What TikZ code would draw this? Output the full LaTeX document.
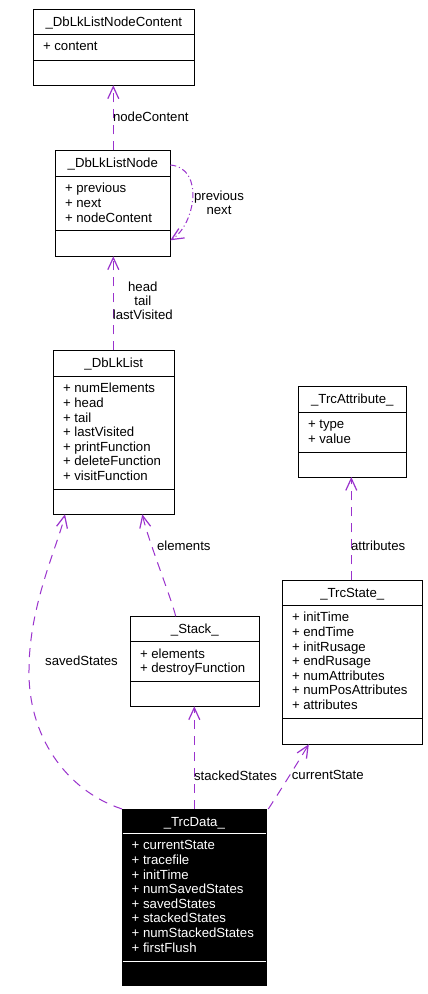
\documentclass[tikz,border=0pt]{standalone}
\usepackage{fontspec}
\setmainfont{Liberation Sans}
\usetikzlibrary{arrows.meta,calc}
\definecolor{usecol}{HTML}{9A32CD}
\newcommand\boxfont{\fontsize{13.2}{14.6}\selectfont}
\newcommand\relfont{\fontsize{13.2}{14}\selectfont}
% #1 style prefix, #2 name, #3 top-left, #4 width, #5 height, #6 sep1, #7 sep2, #8 title, #9 attributes
\newcommand\umlclass[9]{%
  \node[#1 box, minimum width=#4pt, minimum height=#5pt] (#2) at (#3) {};
  \draw[#1 sep] ([yshift=-#6pt]#2.north west) -- ([yshift=-#6pt]#2.north east);
  \draw[#1 sep] ([yshift=-#7pt]#2.north west) -- ([yshift=-#7pt]#2.north east);
  \node[titletext, #1 text] (#2-title) at ([yshift=-17pt]#2.north) {#8};
  \foreach \attr [count=\i] in {#9} {
    \node[attrtext, #1 text] (#2-a\i) at ([xshift=9.5pt, yshift={-(#6+16.5+14.6*(\i-1))*1pt}]#2.north west) {\attr};
  }
}
\tikzset{
  light box/.style={shape=rectangle, draw=black, fill=white, line width=1pt, anchor=north west, inner sep=0pt, outer sep=0pt},
  light sep/.style={draw=black, line width=1pt},
  light text/.style={text=black},
  dark box/.style={shape=rectangle, draw=black, fill=black, line width=1pt, anchor=north west, inner sep=0pt, outer sep=0pt},
  dark sep/.style={draw=white, line width=1pt, shorten <=0.6pt, shorten >=0.6pt},
  dark text/.style={text=white},
  titletext/.style={anchor=base, inner sep=0pt, font=\boxfont},
  attrtext/.style={anchor=base west, inner sep=0pt, font=\boxfont},
  usage/.style={draw=usecol, line width=1pt, dash pattern=on 9pt off 7pt, -{Straight Barb[length=12pt,width=11pt,line width=1.2pt]}},
  selfusage/.style={draw=usecol, line width=1pt, dash pattern=on 6pt off 3pt on 1pt off 3pt, -{Straight Barb[length=12pt,width=11pt,line width=1.2pt]}},
  reltext/.style={inner sep=0pt, align=center, font=\relfont, text=black},
}
\begin{document}
\begin{tikzpicture}[x=1pt, y=-1pt]
\useasboundingbox[fill=white] (0,0) rectangle (428,994);

\umlclass{light}{nc}{33.3,9.3}{161}{76}{25}{51}{\_DbLkListNodeContent}{+ content}
\umlclass{light}{ln}{55.3,150.3}{115}{106}{26}{79.7}{\_DbLkListNode}{+ previous,+ next,+ nodeContent}
\umlclass{light}{dl}{53.3,350.3}{121}{164}{26}{139.4}{\_DbLkList}{+ numElements,+ head,+ tail,+ lastVisited,+ printFunction,+ deleteFunction,+ visitFunction}
\umlclass{light}{ta}{298.3,386.7}{108}{90.3}{25.6}{65.6}{\_TrcAttribute\_}{+ type,+ value}
\umlclass{light}{ts}{282.3,580.3}{140}{164}{25}{138}{\_TrcState\_}{+ initTime,+ endTime,+ initRusage,+ endRusage,+ numAttributes,+ numPosAttributes,+ attributes}
\umlclass{light}{st}{130.3,616.3}{129}{90}{25.4}{64.7}{\_Stack\_}{+ elements,+ destroyFunction}
\umlclass{dark}{td}{122,809}{144.7}{176.7}{24.3}{152.3}{\_TrcData\_}{+ currentState,+ tracefile,+ initTime,+ numSavedStates,+ savedStates,+ stackedStates,+ numStackedStates,+ firstFlush}

% connectors
\draw[usage] ($(ln.north west)+(58,0)$) -- ($(nc.south west)+(80,0)$);
\node[reltext] (l-nc) at (150.8,116.7) {nodeContent};

\draw[usage] ($(dl.north west)+(60,0)$) -- ($(ln.south west)+(58,0)$);
\node[reltext] (l-ht) at (142.8,301) {head\\tail\\lastVisited};

\draw[selfusage] ($(ln.north east)+(0,14.7)$) .. controls (205,168) and (195,225) .. ($(ln.north east)+(0,90)$);
\node[reltext] (l-pn) at (219,202.7) {previous\\next};

\coordinate (sv-mid) at (29,670);
\draw[usage] (td.north west) .. controls (65,790) and (28,735) .. (sv-mid)
  .. controls (29,605) and (58,545) .. ($(dl.south west)+(11.7,0)$);
\node[reltext] (l-sv) at (81.5,660.7) {savedStates};

\draw[usage] ($(st.north west)+(45.4,0)$) .. controls (172,600) and (148,540) .. ($(dl.south west)+(89,0)$);
\node[reltext] (l-el) at (183.8,545.7) {elements};

\draw[usage] ($(ts.north west)+(69,0)$) -- ($(ta.south west)+(53,0)$);
\node[reltext] (l-at) at (378.2,545.7) {attributes};

\draw[usage] ($(td.north west)+(72.3,0)$) -- ($(st.south west)+(64,0)$);
\node[reltext] (l-ss) at (235.5,775.3) {stackedStates};

\draw[usage] ($(td.north east)+(1.6,0)$) .. controls (282,788) and (298,762) .. ($(ts.south west)+(26.5,0)$);
\node[reltext] (l-cs) at (327.8,775.3) {currentState};
\end{tikzpicture}
\end{document}
